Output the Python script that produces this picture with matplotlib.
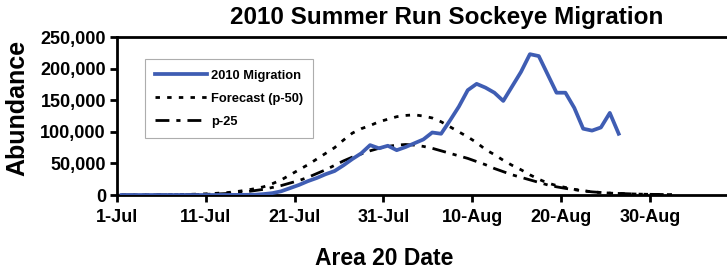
import matplotlib
matplotlib.use("Agg")
import matplotlib.pyplot as plt
from matplotlib.ticker import FuncFormatter

plt.rcParams["font.family"] = ["Liberation Sans", "DejaVu Sans"]
plt.rcParams["font.weight"] = "bold"

# day index 0 = 1-Jul
migration_days = list(range(0, 57))
migration = [0, 0, 0, 0, 0, 0, 0, 0, 0, 0,
             0, 100, 150, 200, 300, 500, 1500, 3000, 6000, 11000,
             16000, 22000, 27000, 33000, 38000, 47000, 57000, 66000, 79000, 74000,
             78000, 71000, 76000, 82000, 88000, 99000, 97000, 118000, 140000, 166000,
             176000, 170000, 162000, 149000, 172000, 195000, 223000, 220000, 191000, 162000,
             162000, 138000, 105000, 102000, 107000, 130000, 97000]

forecast_days = list(range(0, 63))
forecast_p50 = [0, 50, 100, 200, 300, 450, 650, 900, 1200, 1600,
                2100, 3000, 4000, 5500, 7500, 10000, 13000, 18000, 24000, 32000,
                40000, 48000, 57000, 66000, 75000, 87000, 98000, 105000, 110000, 116000,
                120000, 124000, 126000, 127000, 125000, 122000, 116000, 108000, 100000, 92000,
                83000, 72000, 64000, 55000, 47000, 40000, 32000, 25000, 19000, 15000,
                12000, 9000, 7000, 5000, 4000, 3000, 2500, 2000, 1500, 1200,
                1000, 800, 600]
forecast_p25 = [0, 30, 60, 100, 150, 250, 350, 500, 700, 950,
                1300, 1800, 2500, 3500, 5000, 7000, 9000, 12000, 15000, 19000,
                23000, 28000, 34000, 40000, 47000, 54000, 60000, 65000, 70000, 74000,
                77000, 79000, 80000, 79000, 77000, 74000, 70000, 66000, 62000, 58000,
                53000, 48000, 42000, 37000, 32000, 28000, 24000, 20000, 16000, 13000,
                10500, 8500, 6500, 5000, 4000, 3000, 2500, 2000, 1500, 1200,
                1000, 800, 600]

tick_days = [0, 10, 20, 30, 40, 50, 60]
tick_labels = ["1-Jul", "11-Jul", "21-Jul", "31-Jul", "10-Aug", "20-Aug", "30-Aug"]

fig = plt.figure(figsize=(7.27, 2.69), dpi=100)
ax = fig.add_axes([0.161, 0.275, 0.839, 0.587])

# Excel-style category axis: points sit mid-category
ax.plot([d + 0.5 for d in migration_days], migration, color="#3F5DB3",
        linewidth=2.7, label="2010 Migration", zorder=3)
ax.plot([d + 0.5 for d in forecast_days], forecast_p50, color="black",
        linewidth=2.0, linestyle=(0, (1.6, 2.6)), label="Forecast (p-50)")
ax.plot([d + 0.5 for d in forecast_days], forecast_p25, color="black",
        linewidth=2.0, linestyle=(0, (5, 2.5, 1.5, 2.5)), label="p-25")

ax.set_xlim(0, 68.7)
ax.set_ylim(0, 250000)
ax.set_xticks(tick_days)
ax.set_xticklabels(tick_labels)
ax.set_yticks([0, 50000, 100000, 150000, 200000, 250000])
ax.yaxis.set_major_formatter(FuncFormatter(lambda v, p: f"{int(v):,}"))
ax.tick_params(axis="both", labelsize=13, width=2, length=5, direction="out", colors="black")
ax.tick_params(axis="x", pad=5)
ax.tick_params(axis="y", pad=3)
for lab in ax.get_xticklabels() + ax.get_yticklabels():
    lab.set_fontweight("bold")

ax.spines["right"].set_visible(False)
for s in ["left", "bottom", "top"]:
    ax.spines[s].set_linewidth(2)

fig.text(0.615, 0.935, "2010 Summer Run Sockeye Migration", ha="center", va="center",
         fontsize=17.5, fontweight="bold")
fig.text(0.528, 0.04, "Area 20 Date", ha="center", va="center", fontsize=16.5, fontweight="bold")
fig.text(0.024, 0.6, "Abundance", ha="center", va="center", rotation=90,
         fontsize=18, fontweight="bold")

leg = ax.legend(loc="upper left", bbox_to_anchor=(0.035, 0.9), fontsize=9.3,
                handlelength=4.0, frameon=True, fancybox=False, edgecolor="#999999",
                borderpad=0.8, labelspacing=0.85, handletextpad=0.3)
leg.get_frame().set_linewidth(0.8)
for t in leg.get_texts():
    t.set_fontweight("bold")

fig.savefig("out.png", dpi=100)
